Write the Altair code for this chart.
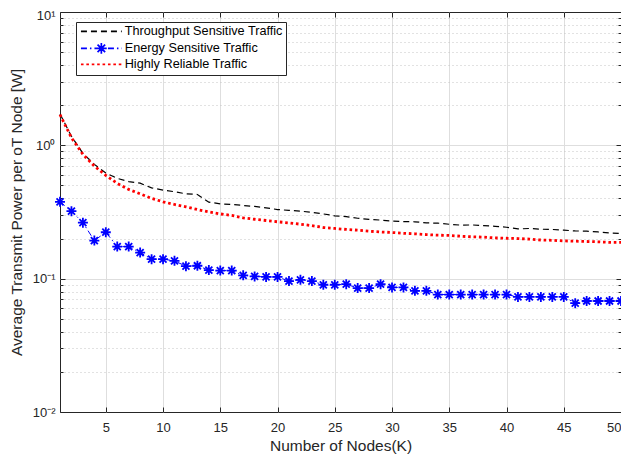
import altair as alt
import pandas as pd

# ---------------- data ----------------
k_values = list(range(1, 51))

throughput = [1.72, 1.17, 0.87, 0.72, 0.62, 0.565, 0.535, 0.52, 0.48, 0.462,
              0.449, 0.433, 0.428, 0.375, 0.364, 0.360, 0.354, 0.348, 0.340, 0.330,
              0.325, 0.321, 0.314, 0.306, 0.296, 0.292, 0.284, 0.278, 0.275, 0.270,
              0.268, 0.267, 0.262, 0.261, 0.256, 0.252, 0.253, 0.250, 0.247, 0.243,
              0.236, 0.238, 0.235, 0.234, 0.231, 0.228, 0.227, 0.224, 0.220, 0.218]

energy = [0.377, 0.321, 0.263, 0.193, 0.223, 0.174, 0.174, 0.157, 0.140, 0.140,
          0.136, 0.124, 0.125, 0.116, 0.115, 0.115, 0.106, 0.104, 0.103, 0.103,
          0.096, 0.098, 0.096, 0.090, 0.090, 0.091, 0.085, 0.085, 0.091, 0.086,
          0.086, 0.081, 0.081, 0.076, 0.076, 0.076, 0.076, 0.076, 0.076, 0.076,
          0.073, 0.073, 0.073, 0.073, 0.073, 0.0655, 0.068, 0.068, 0.068, 0.068]

reliable = [1.70, 1.14, 0.856, 0.70, 0.595, 0.518, 0.467, 0.433, 0.40, 0.377,
            0.360, 0.346, 0.330, 0.317, 0.306, 0.298, 0.286, 0.279, 0.273, 0.267,
            0.262, 0.256, 0.250, 0.242, 0.238, 0.234, 0.231, 0.227, 0.224, 0.222,
            0.219, 0.217, 0.214, 0.212, 0.211, 0.208, 0.206, 0.205, 0.202, 0.201,
            0.200, 0.198, 0.195, 0.194, 0.192, 0.191, 0.190, 0.189, 0.187, 0.187]

series_names = ["Throughput Sensitive Traffic", "Energy Sensitive Traffic",
                "Highly Reliable Traffic"]

x_ticks = [5, 10, 15, 20, 25, 30, 35, 40, 45, 50]
y_major = [0.01, 0.1, 1, 10]
y_minor = [0.02, 0.03, 0.04, 0.05, 0.06, 0.07, 0.08, 0.09,
           0.2, 0.3, 0.4, 0.5, 0.6, 0.7, 0.8, 0.9,
           2, 3, 4, 5, 6, 7, 8, 9]
y_ticks = y_major + y_minor

# ---------------- styles ----------------
colors = ["#000000", "#0000ff", "#ff0000"]
dashes = [[6, 4], [6, 3, 1.5, 3], [2.6, 2.8]]
FONT = "Liberation Sans"
AX = "#262626"
ASTERISK = "M-1,0L1,0M0,-1L0,1M-0.7,-0.7L0.7,0.7M-0.7,0.7L0.7,-0.7"
LEG_LINE = "M-5.1,0L5.1,0"
LEG_AST = ("M-5.1,0L5.1,0M0,0L1.35,0M0,0L-1.35,0M0,0L0,1.35M0,0L0,-1.35"
           "M0,0L0.95,0.95M0,0L-0.95,-0.95M0,0L0.95,-0.95M0,0L-0.95,0.95")
leg_shapes = [LEG_LINE, LEG_AST, LEG_LINE]

W, H = 561, 400

rows = []
for name, vals in zip(series_names, [throughput, energy, reliable]):
    for k, v in zip(k_values, vals):
        rows.append({"k": k, "value": v, "series": name})
df = pd.DataFrame(rows)
df_energy = df[df["series"] == series_names[1]]

x_scale = alt.Scale(domain=[1, 50], nice=False, zero=False)
y_scale = alt.Scale(type="log", domain=[0.01, 10], nice=False)

major_test = "datum.value == 10 || datum.value == 1 || datum.value == 0.1 || datum.value == 0.01"
edge_test_y = "datum.value == 10 || datum.value == 0.01"
label_expr = ("datum.value == 10 ? '10\u00b9' : datum.value == 1 ? '10\u2070' : "
              "datum.value == 0.1 ? '10\u207b\u00b9' : datum.value == 0.01 ? '10\u207b\u00b2' : ''")

leg = alt.Legend(
    title=None, orient="none", legendX=16, legendY=10, fillColor="white", strokeColor=AX,
    padding=3, rowPadding=0, labelFont=FONT, labelFontSize=12.7, labelColor="#000000",
    labelLimit=400,
    symbolType=LEG_LINE, symbolSize=64, symbolOffset=16, labelOffset=17,
    symbolStrokeWidth=1.7, symbolOpacity=1, symbolFillColor="transparent",
)

color_enc = alt.Color("series:N", scale=alt.Scale(domain=series_names, range=colors), legend=leg)
dash_enc = alt.StrokeDash("series:N", scale=alt.Scale(domain=series_names, range=dashes), legend=leg)

lines = alt.Chart(df).transform_calculate(
    lw="datum.series == 'Highly Reliable Traffic' ? 2.8 : datum.series == 'Energy Sensitive Traffic' ? 1.0 : 1.2"
).mark_line().encode(
    x=alt.X("k:Q", scale=x_scale, title="Number of Nodes(K)",
            axis=alt.Axis(values=x_ticks, grid=True, gridColor="#dedede",
                          gridOpacity={"condition": {"test": "datum.value == 50", "value": 0}, "value": 1},
                          labelAlign={"condition": {"test": "datum.value == 50", "value": "right"}, "value": "center"},
                          ticks=False, tickSize=0, domain=False, labelPadding=9,
                          titlePadding=4)),
    y=alt.Y("value:Q", scale=y_scale, title="Average Transmit Power per oT Node [W]",
            axis=alt.Axis(values=y_ticks, labelExpr=label_expr, grid=True,
                          gridColor={"condition": {"test": major_test, "value": "#dedede"}, "value": "#c4c4c4"},
                          gridDash={"condition": {"test": major_test, "value": []}, "value": [1, 3]},
                          gridOpacity={"condition": {"test": edge_test_y, "value": 0}, "value": 1},
                          labelOffset={"condition": {"test": "datum.value == 10", "value": 3}, "value": 0},
                          ticks=False, tickSize=0, domain=False, labelPadding=5,
                          titlePadding=8)),
    color=color_enc,
    strokeDash=dash_enc,
    strokeWidth=alt.StrokeWidth("lw:Q", scale=None, legend=None),
)

minor_tick = {"condition": {"test": major_test, "value": 5}, "value": 3}

# asterisk markers; their axes only draw the inward ticks of the bottom and left edges
pts = alt.Chart(df_energy).mark_point(
    shape=ASTERISK, size=100, filled=False, color="#0000ff", strokeWidth=1.8, opacity=1
).encode(
    x=alt.X("k:Q", scale=x_scale, title=None,
            axis=alt.Axis(orient="top", offset=-H, values=x_ticks, labels=False, grid=False,
                          domain=False, ticks=True, tickSize=5, tickColor=AX)),
    y=alt.Y("value:Q", scale=y_scale, title=None,
            axis=alt.Axis(orient="right", offset=-W, values=y_ticks, labels=False, grid=False,
                          domain=False, ticks=True, tickColor=AX, tickSize=minor_tick)),
)

# invisible layer feeding the legend symbols; its axes draw the inward ticks of the top and right edges
legend_feed = alt.Chart(df).mark_point(opacity=0, filled=False).encode(
    x=alt.X("k:Q", scale=x_scale, title=None,
            axis=alt.Axis(orient="bottom", offset=-H, values=x_ticks, labels=False, grid=False,
                          domain=False, ticks=True, tickSize=5, tickColor=AX)),
    y=alt.Y("value:Q", scale=y_scale, title=None,
            axis=alt.Axis(orient="left", offset=-W, values=y_ticks, labels=False, grid=False,
                          domain=False, ticks=True, tickColor=AX, tickSize=minor_tick)),
    color=color_enc,
    strokeDash=dash_enc,
    shape=alt.Shape("series:N", scale=alt.Scale(domain=series_names, range=leg_shapes), legend=leg),
)

chart = alt.layer(lines, pts, legend_feed).resolve_axis(x="independent", y="independent").properties(
    width=W, height=H,
    autosize=alt.AutoSizeParams(type="none"),
    padding={"left": 52, "top": 4, "right": 0, "bottom": 44},
    background="white",
).configure_view(
    stroke=AX, strokeWidth=1
).configure_axis(
    labelFont=FONT, labelFontSize=13, labelColor=AX,
    titleFont=FONT, titleFontSize=15.5, titleFontWeight="normal", titleColor=AX,
)

chart.save("out.html", embed_options={"renderer": "svg", "actions": False})
